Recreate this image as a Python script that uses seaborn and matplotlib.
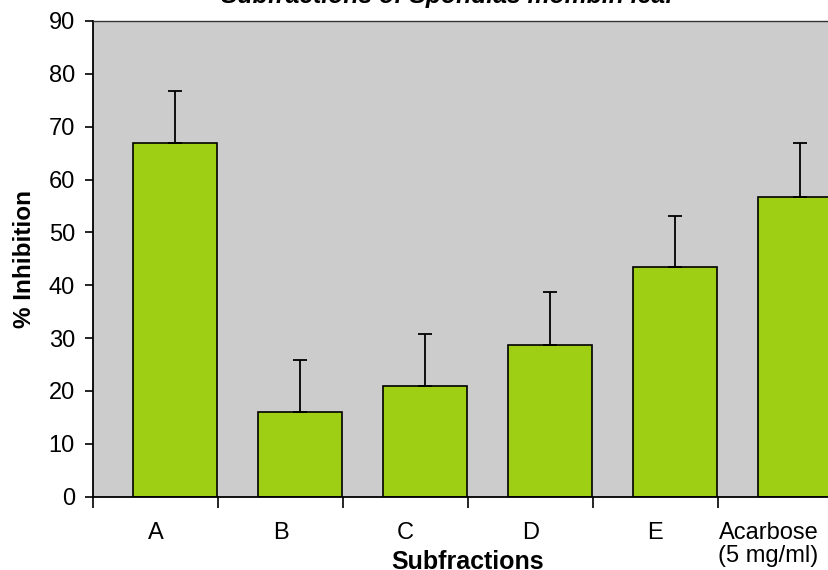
import matplotlib
matplotlib.use("Agg")
import matplotlib.pyplot as plt
from matplotlib.transforms import ScaledTranslation
import seaborn as sns
import pandas as pd
import numpy as np

# values
subfractions = ['A', 'B', 'C', 'D', 'E', 'Acarbose\n(5 mg/ml)']
inhibition = [67.0, 16.1, 21.0, 28.7, 43.4, 56.7]
inhibition_err = [9.8, 9.7, 9.8, 10.1, 9.8, 10.2]
y_ticks = list(range(0, 100, 10))

df = pd.DataFrame({'subfraction': subfractions, 'inhibition': inhibition})

sns.set_style("white")
plt.rcParams['font.family'] = ['Liberation Sans', 'DejaVu Sans']
plt.rcParams['text.color'] = 'black'
plt.rcParams['axes.labelcolor'] = 'black'
plt.rcParams['xtick.color'] = 'black'
plt.rcParams['ytick.color'] = 'black'

W, H = 829, 570
fig = plt.figure(figsize=(W / 100, H / 100), dpi=100)
# plot area runs a little past the right edge, as in the cropped original
ax = fig.add_axes([93 / W, (H - 496.7) / H, 750 / W, (496.7 - 21) / H])
ax.set_facecolor('#cccccc')

sns.barplot(data=df, x='subfraction', y='inhibition', color='#9fcf15',
            saturation=1, width=0.672, edgecolor='black', linewidth=1.2,
            errorbar=None, ax=ax)

# bars sit to the right side of each category slot (Excel style)
shift = 0.159
for p in ax.patches:
    p.set_x(p.get_x() + shift)
centers = np.arange(len(subfractions)) + shift
ax.errorbar(centers, inhibition, yerr=[np.zeros(len(inhibition)), inhibition_err],
            fmt='none', ecolor='black', elinewidth=1.3, capsize=5, capthick=1.3,
            zorder=3)

ax.set_xlim(-0.5, len(subfractions) - 0.5)
ax.set_ylim(0, 90)
ax.set_yticks(y_ticks)
ax.set_yticklabels([str(t) for t in y_ticks], fontsize=17)

# category boundary tick marks, labels without marks
ax.set_xticks(np.arange(len(subfractions)))
ax.set_xticklabels(subfractions, fontsize=17, linespacing=1.1)
ax.set_xticks(np.arange(len(subfractions) + 1) - 0.5, minor=True)
ax.tick_params(axis='x', which='major', length=0, pad=18)
ax.tick_params(axis='x', which='minor', length=8, width=1.2, color='black',
               direction='out', bottom=True)
ax.tick_params(axis='y', length=6, width=1.2, color='black', direction='out',
               left=True, pad=7)

lbl = ax.get_xticklabels()[-1]
lbl.set_transform(lbl.get_transform() + ScaledTranslation(-0.12, 0, fig.dpi_scale_trans))

for side in ['left', 'bottom']:
    ax.spines[side].set_color('black')
    ax.spines[side].set_linewidth(1.3)
ax.spines['top'].set_color('#333333')
ax.spines['top'].set_linewidth(1.0)
ax.spines['right'].set_visible(False)

ax.set_xlabel('Subfractions', fontsize=18, fontweight='bold')
ax.xaxis.set_label_coords(0.5, (496.7 - 550) / (496.7 - 21))
ax.set_ylabel('% Inhibition', fontsize=17.5, fontweight='bold')
ax.yaxis.set_label_coords(-(93 - 25) / 750, 0.5)
ax.yaxis.label.set_va('center')

fig.text(447 / W, 1 - 3.5 / H, 'Subfractions of Spondias mombin leaf',
         ha='center', va='baseline', fontsize=17.8, fontweight='bold',
         fontstyle='italic')

fig.savefig('out.png', dpi=100, facecolor='white')
